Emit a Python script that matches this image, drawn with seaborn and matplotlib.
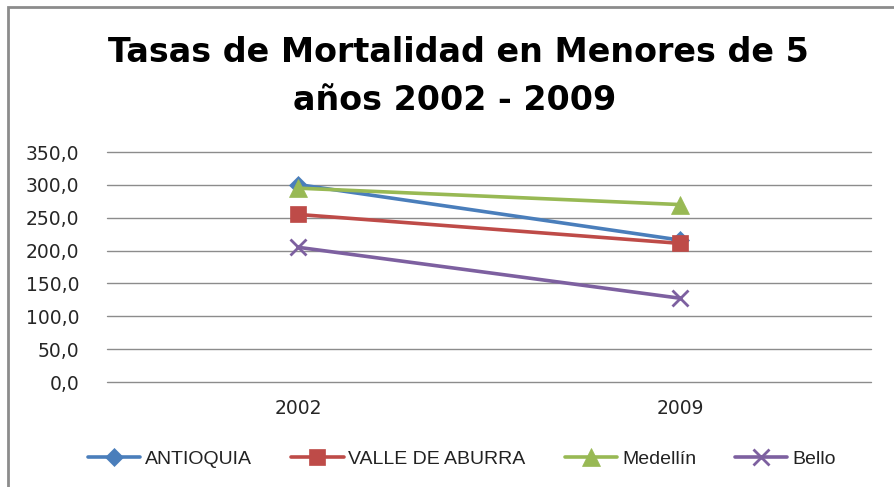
import numpy as np
import pandas as pd
import matplotlib.pyplot as plt
import matplotlib.ticker as ticker
import matplotlib.patches as mpatches
import seaborn as sns

years = ['2002', '2009']
series = ['ANTIOQUIA', 'VALLE DE ABURRA', 'Medellín', 'Bello']
antioquia = [300.5, 216.0]
valle = [255.0, 211.0]
medellin = [295.0, 270.0]
bello = [205.0, 127.5]

colors = ['#4A7EBB', '#BE4B48', '#98B954', '#7D60A0']
markers = ['D', 's', '^', 'x']
msizes = [9, 12, 13, 12]

df = pd.DataFrame({
    'Año': years * 4,
    'Serie': np.repeat(series, 2),
    'Tasa': antioquia + valle + medellin + bello,
})
df['pos'] = df['Año'].map({y: i for i, y in enumerate(years)})

sns.set_style('white')
plt.rcParams['font.family'] = ['DejaVu Sans']

fig = plt.figure(figsize=(8.95, 4.87), dpi=100)
ax = fig.add_axes([107 / 895, 1 - 382 / 487, (871 - 107) / 895, (382 - 152) / 487])

for s, c, m, ms in zip(series, colors, markers, msizes):
    sub = df[df['Serie'] == s]
    sns.lineplot(data=sub, x='pos', y='Tasa', ax=ax, color=c, marker=m,
                 markersize=ms, linewidth=2.6, markeredgecolor=c,
                 markeredgewidth=2 if m == 'x' else 0.5, label=s)

ax.set_xlim(-0.5, 1.5)
ax.set_ylim(0, 350)
ax.set_yticks(np.arange(0, 351, 50))
ax.yaxis.set_major_formatter(ticker.FuncFormatter(lambda v, p: f'{v:.1f}'.replace('.', ',')))
ax.set_xticks(range(len(years)))
ax.set_xticklabels(years)
ax.set_xlabel('')
ax.set_ylabel('')
ax.grid(axis='y', color='#8c8c8c', linewidth=1)
ax.grid(axis='x', visible=False)
for gl in ax.get_ygridlines():
    gl.set_clip_on(False)
for sp in ax.spines.values():
    sp.set_visible(False)
ax.tick_params(axis='y', length=0, pad=20, labelsize=13.5, labelcolor='#262626')
ax.tick_params(axis='x', length=0, pad=12, labelsize=13.5, labelcolor='#262626')
ax.set_axisbelow(True)

handles, labels = ax.get_legend_handles_labels()
ax.get_legend().remove()
fig.legend(handles, labels, loc='center', bbox_to_anchor=(0.516, 1 - 459 / 487), ncol=4,
           frameon=False, handlelength=2.7, columnspacing=2.0, handletextpad=0.25,
           labelcolor='#222222', prop={'family': ['Liberation Sans', 'DejaVu Sans'], 'size': 14})

fig.text(0.512, 1 - 52 / 487, 'Tasas de Mortalidad en Menores de 5', ha='center', va='center',
         fontsize=24, fontweight='bold', color='black', family=['DejaVu Sans'])
fig.text(0.508, 1 - 101 / 487, 'años 2002 - 2009', ha='center', va='center',
         fontsize=24, fontweight='bold', color='black', family=['DejaVu Sans'])

# chart border (cropped at right and bottom)
fig.patches.append(mpatches.Rectangle((8 / 895, -0.1), 1.2, 1 - 7 / 487 + 0.1,
                                      transform=fig.transFigure, fill=False,
                                      edgecolor='#8c8c8c', linewidth=2))

fig.savefig('out.png', dpi=100)
